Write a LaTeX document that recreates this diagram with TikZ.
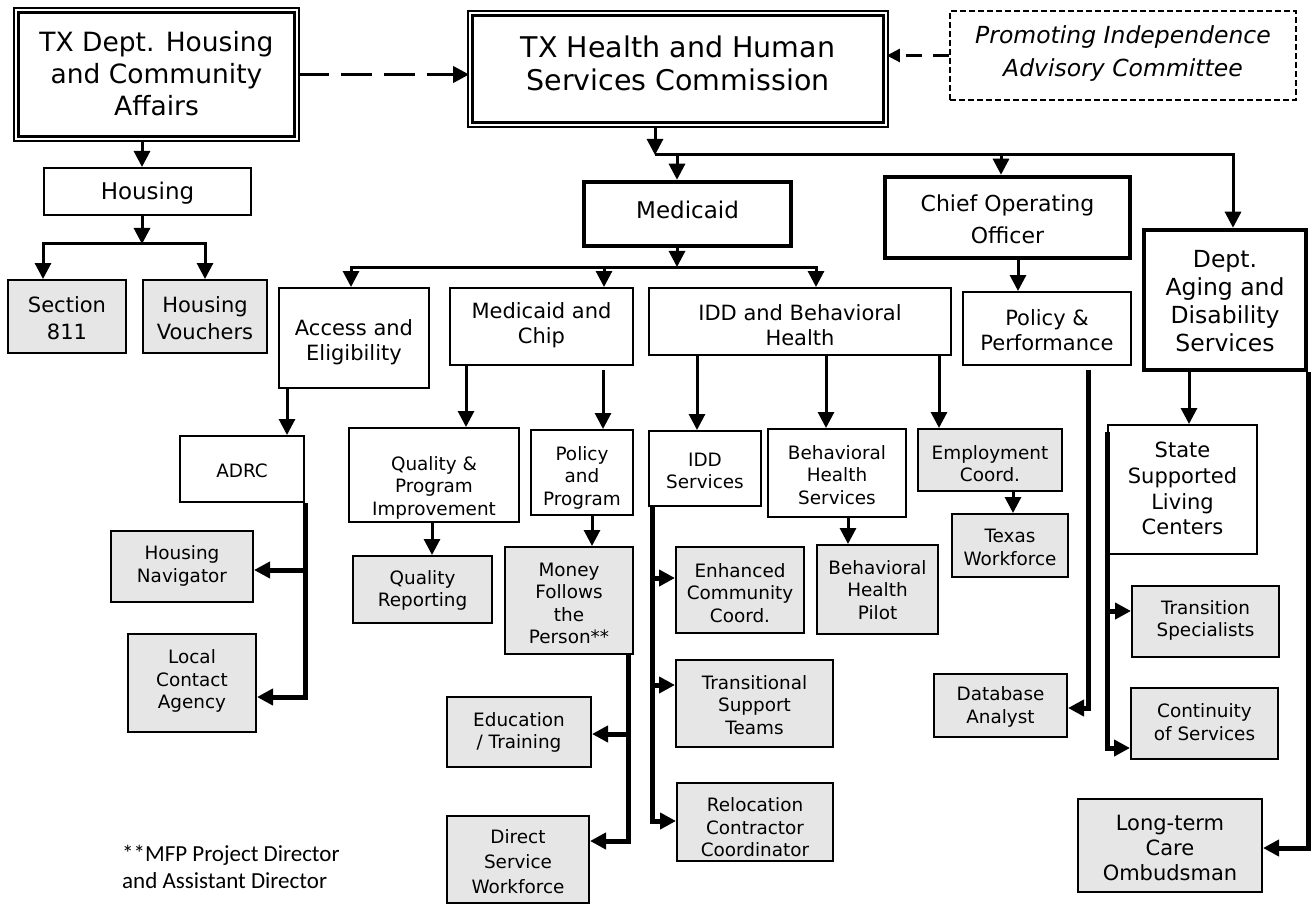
\documentclass[tikz,border=0pt]{standalone}
\usepackage{fontspec}
\setmainfont{DejaVu Sans}
\newfontfamily\calfont{Carlito}
\usetikzlibrary{arrows.meta}
\definecolor{boxgray}{RGB}{230,230,230}
\newcommand{\orgbox}[9]{%
  \node[#2, minimum width={#5-#3}, minimum height={#6-#4}] (#1) at ({(#3+#5)/2},{(#4+#6)/2}) {};
  \node[#7, align=center, inner sep=0pt] (#1-t) at ({(#3+#5)/2},#8) {#9};
}
\begin{document}
\begin{tikzpicture}[x=1pt,y=-1pt,
  box/.style={draw, line width=2pt, inner sep=0pt, fill=white},
  gbox/.style={box, fill=boxgray},
  tbox/.style={box, line width=4.5pt},
  dbl/.style={draw, line width=2.2pt, double, double distance=2.2pt, inner sep=0pt},
  dbox/.style={draw, line width=1.8pt, dash pattern=on 6pt off 3pt, inner sep=0pt},
  fTX/.style={font=\fontsize{26.5pt}{32pt}\selectfont},
  fHH/.style={font=\fontsize{28.5pt}{33pt}\selectfont},
  fPI/.style={font=\fontsize{23.5pt}{33pt}\selectfont\itshape},
  fL/.style={font=\fontsize{23pt}{28pt}\selectfont},
  fC/.style={font=\fontsize{22pt}{32pt}\selectfont},
  fD/.style={font=\fontsize{23.5pt}{28pt}\selectfont},
  fS/.style={font=\fontsize{21pt}{27pt}\selectfont},
  fM/.style={font=\fontsize{21pt}{25pt}\selectfont},
  fSL/.style={font=\fontsize{21pt}{25.7pt}\selectfont},
  fs/.style={font=\fontsize{18.4pt}{22.5pt}\selectfont},
  fsw/.style={font=\fontsize{18.4pt}{25pt}\selectfont},
  fnote/.style={font=\calfont\fontsize{23pt}{27pt}\selectfont},
  arr/.style={line width=3pt, -{Triangle[length=16pt,width=16pt]}},
  tarr/.style={line width=5pt, -{Triangle[length=16pt,width=16pt]}},
  ln/.style={line width=3pt}
]
\useasboundingbox (0,0) rectangle (1316,909);

% ---- boxes ----
\orgbox{txdept}{dbl}{16.3}{10.3}{296.7}{138.7}{fTX}{73.5}{TX Dept. Housing\\and Community\\Affairs}
\orgbox{hhsc}{dbl}{470.3}{13.3}{885.7}{124.7}{fHH}{63.5}{TX Health and Human\\Services Commission}
\orgbox{piac}{dbox}{950}{11}{1296}{100}{fPI}{53.5}{Promoting Independence\\Advisory Committee}
\orgbox{housing}{box}{44}{168}{251}{215}{fL}{193}{Housing}
\orgbox{sec811}{gbox}{8}{280}{126}{353}{fS}{318.5}{Section\\811}
\orgbox{vouchers}{gbox}{143}{280}{267}{353}{fS}{318.5}{Housing\\Vouchers}
\orgbox{medicaid}{tbox}{584}{182}{791}{246}{fL}{210}{Medicaid}
\orgbox{coo}{tbox}{885}{177}{1130}{258}{fC}{219}{Chief Operating\\Officer}
\orgbox{dads}{tbox}{1144}{230}{1306}{370}{fD}{301.5}{Dept.\\Aging and\\Disability\\Services}
\orgbox{access}{box}{279}{288}{429}{388}{fM}{342}{Access and\\Eligibility}
\orgbox{mchip}{box}{450}{288}{633}{365}{fM}{325.5}{Medicaid and\\Chip}
\orgbox{iddbh}{box}{649}{288}{951}{355}{fM}{325.5}{IDD and Behavioral\\Health}
\orgbox{pp}{box}{963}{292}{1131}{365}{fM}{330.5}{Policy \&\\Performance}
\orgbox{adrc}{box}{180}{436}{304}{502}{fs}{471}{ADRC}
\orgbox{qpi}{box}{349}{428}{519}{522}{fs}{487.5}{Quality \&\\Program\\Improvement}
\orgbox{ppg}{box}{531}{430}{633}{515}{fs}{477.5}{Policy\\and\\Program}
\orgbox{iddsvc}{box}{649}{431}{761}{506}{fs}{471}{IDD\\Services}
\orgbox{bhs}{box}{768}{429}{906}{517}{fs}{475}{Behavioral\\Health\\Services}
\orgbox{emp}{gbox}{918}{429}{1062}{491}{fs}{463.5}{Employment\\Coord.}
\orgbox{sslc}{box}{1108}{425}{1257}{554}{fSL}{488.7}{State\\Supported\\Living\\Centers}
\orgbox{texaswf}{gbox}{952}{514}{1068}{577}{fs}{547.5}{Texas\\Workforce}
\orgbox{hnav}{gbox}{111}{531}{253}{602}{fs}{566}{Housing\\Navigator}
\orgbox{qrep}{gbox}{353}{556}{492}{623}{fs}{590.5}{Quality\\Reporting}
\orgbox{mfp}{gbox}{505}{547}{633}{654}{fs}{603.5}{Money\\Follows\\the\\Person**}
\orgbox{ecc}{gbox}{676}{547}{804}{633}{fs}{593}{Enhanced\\Community\\Coord.}
\orgbox{bhp}{gbox}{817}{545}{938}{634}{fs}{590}{Behavioral\\Health\\Pilot}
\orgbox{tspec}{gbox}{1132}{586}{1279}{657}{fs}{620.5}{Transition\\Specialists}
\orgbox{lca}{gbox}{128}{634}{256}{732}{fs}{681}{Local\\Contact\\Agency}
\orgbox{trans}{gbox}{676}{660}{833}{747}{fs}{705}{Transitional\\Support\\Teams}
\orgbox{dba}{gbox}{934}{674}{1067}{737}{fs}{707}{Database\\Analyst}
\orgbox{cont}{gbox}{1131}{688}{1278}{759}{fs}{722}{Continuity\\of Services}
\orgbox{edu}{gbox}{447}{697}{591}{767}{fs}{732.5}{Education\\/ Training}
\orgbox{reloc}{gbox}{677}{783}{833}{861}{fs}{827.5}{Relocation\\Contractor\\Coordinator}
\orgbox{ltc}{gbox}{1078}{799}{1262}{892}{fM}{848}{Long-term\\Care\\Ombudsman}
\orgbox{dsw}{gbox}{447}{816}{589}{903}{fsw}{862}{Direct\\Service\\Workforce}

\node[fnote, anchor=west, align=left, inner sep=0pt] (note) at (122,866.5) {**MFP Project Director\\and Assistant Director};

% ---- dashed links ----
\draw[line width=3.5pt, dash pattern=on 31pt off 12pt, -{Triangle[length=16pt,width=16pt]}]
  (txdept.east) -- (txdept.east -| hhsc.west);
\draw[line width=2.4pt, dash pattern=on 16pt off 11pt, -{Triangle[length=13pt,width=13pt]}]
  (piac.west) -- (piac.west -| hhsc.east);

% ---- HHSC tree ----
\coordinate (hj) at (655,155);
\draw[arr] (hj |- hhsc.south) -- (hj);
\draw[arr] (hj) -| (1233,0 |- dads.north);
\draw[arr] (677,155) -- (677,0 |- medicaid.north);
\draw[arr] (1001,155) -- (1001,0 |- coo.north);

% ---- Housing tree ----
\coordinate (hb) at (142,244);
\draw[arr] (142,0 |- txdept.south) -- (142,0 |- housing.north);
\draw[arr] (142,0 |- housing.south) -- (hb);
\draw[arr] (hb) -| (43,0 |- sec811.north);
\draw[arr] (hb) -| (205,0 |- vouchers.north);

% ---- Medicaid tree ----
\coordinate (mb) at (677,267);
\draw[arr] (677,0 |- medicaid.south) -- (mb);
\draw[arr] (mb) -| (351,0 |- access.north);
\draw[arr] (mb) -| (604,0 |- mchip.north);
\draw[arr] (mb) -| (816,0 |- iddbh.north);

\draw[arr] (287,0 |- access.south) -- (287,0 |- adrc.north);
\draw[tarr] (adrc.south east) |- (hnav.east |- 0,570);
\draw[tarr] (adrc.south east) |- (lca.east |- 0,697);

\draw[arr] (466,0 |- mchip.south) -- (466,0 |- qpi.north);
\draw[arr, shorten <=4pt] (603,0 |- mchip.south) -- (603,0 |- ppg.north);
\draw[arr] (432,0 |- qpi.south) -- (432,0 |- qrep.north);
\draw[arr] (592,0 |- ppg.south) -- (592,0 |- mfp.north);
\draw[tarr] (628,0 |- mfp.south) |- (edu.east |- 0,734);
\draw[tarr] (628,0 |- mfp.south) |- (dsw.east |- 0,841);

\draw[arr] (697,0 |- iddbh.south) -- (697,0 |- iddsvc.north);
\draw[arr] (826,0 |- iddbh.south) -- (826,0 |- bhs.north);
\draw[arr] (939,0 |- iddbh.south) -- (939,0 |- emp.north);
\draw[tarr] (652,0 |- iddsvc.south) |- (ecc.west |- 0,578);
\draw[tarr] (652,0 |- iddsvc.south) |- (trans.west |- 0,685);
\draw[tarr] (652,0 |- iddsvc.south) |- (reloc.west |- 0,821);
\draw[arr] (848,0 |- bhs.south) -- (848,0 |- bhp.north);
\draw[arr] (1013,0 |- emp.south) -- (1013,0 |- texaswf.north);

% ---- COO / DADS ----
\draw[arr] (1018,0 |- coo.south) -- (1018,0 |- pp.north);
\draw[tarr, shorten <=4pt] (1088,0 |- pp.south) |- (dba.east |- 0,708);
\draw[arr] (1189,0 |- dads.south) -- (1189,0 |- sslc.north);
\draw[tarr] (dads.south east) |- (ltc.east |- 0,848);
\draw[tarr, shorten <=8pt] (sslc.north west) |- (tspec.west |- 0,611);
\draw[tarr, shorten <=8pt] (sslc.north west) |- (cont.west |- 0,748);
\end{tikzpicture}
\end{document}
